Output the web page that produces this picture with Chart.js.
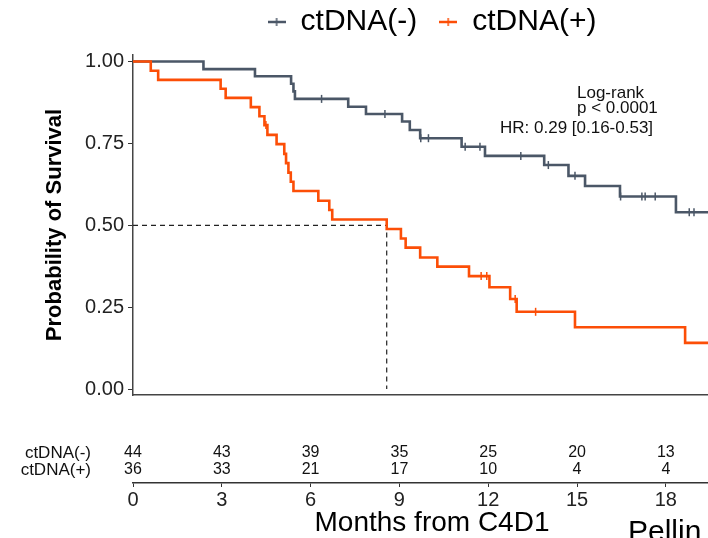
<!DOCTYPE html>
<html>
<head>
<meta charset="utf-8">
<script src="https://cdn.jsdelivr.net/npm/chart.js@4.4.1/dist/chart.umd.min.js"></script>
<style>
  body { margin: 0; overflow: hidden; background: #fff; }
  #wrap { position: relative; width: 740px; height: 538px; }
  #cut { position: absolute; left: 628px; top: 517px; font: 30px/28px "Liberation Sans", Arial, sans-serif; color: #000; white-space: nowrap; }
</style>
</head>
<body>
<div id="wrap">
  <canvas id="km" width="740" height="538"></canvas>
  <div id="cut">Pellin</div>
</div>
<script>
// KM steps: time (months) and survival just after each drop
const negTimes = [0, 2.38, 4.12, 5.34, 5.42, 5.47, 7.27, 7.87, 9.09, 9.35, 9.70, 11.10, 11.89, 13.89, 14.71, 15.27, 16.45, 18.34, 19.5];
const negSurv  = [1, 0.977, 0.955, 0.932, 0.909, 0.886, 0.862, 0.840, 0.817, 0.791, 0.766, 0.740, 0.712, 0.684, 0.651, 0.620, 0.588, 0.540, 0.540];
const negCensor = [6.37, 8.51, 9.72, 9.98, 11.22, 11.72, 13.10, 14.03, 14.93, 16.47, 17.19, 17.30, 17.64, 18.79, 18.95];

const posTimes = [0, 0.60, 0.85, 2.96, 3.13, 3.98, 4.27, 4.44, 4.54, 4.85, 5.11, 5.17, 5.25, 5.33, 5.42, 6.26, 6.63, 6.73, 8.57, 9.05, 9.21, 9.70, 10.28, 11.35, 12.04, 12.74, 12.96, 14.93, 18.65, 19.5];
const posSurv  = [1, 0.972, 0.944, 0.917, 0.889, 0.861, 0.833, 0.806, 0.776, 0.748, 0.718, 0.690, 0.661, 0.633, 0.605, 0.575, 0.547, 0.518, 0.489, 0.460, 0.432, 0.402, 0.374, 0.345, 0.311, 0.275, 0.236, 0.189, 0.141, 0.141];
const posCensor = [4.49, 11.76, 11.95, 12.91, 13.60];

const medianTime = 8.57;
const medianSurv = 0.5;

// numbers at risk
const riskTimes = [0, 3, 6, 9, 12, 15, 18];
const negRisk = [44, 43, 39, 35, 25, 20, 13];
const posRisk = [36, 33, 21, 17, 10, 4, 4];

const groupNames = ['ctDNA(-)', 'ctDNA(+)'];
const yTicks = [0, 0.25, 0.5, 0.75, 1];
const xTicks = [0, 3, 6, 9, 12, 15, 18];
const statLines = ['Log-rank', 'p < 0.0001', 'HR: 0.29 [0.16-0.53]'];

const GREY = '#4b5767';
const ORANGE = '#fc4e07';
const FONT = '"Liberation Sans", Arial, sans-serif';

function stepPoints(times, surv) {
  return times.map((t, i) => ({ x: t, y: surv[i] }));
}

// survival value of a curve at time t (for the censor ticks)
function survAt(times, surv, t) {
  let k = 0;
  for (let i = 0; i < times.length; i++) if (times[i] <= t) k = i;
  return surv[k];
}

function legendMark(color) {
  const c = document.createElement('canvas');
  c.width = 18; c.height = 10;
  const g = c.getContext('2d');
  g.strokeStyle = color;
  g.lineWidth = 2.5;
  g.beginPath(); g.moveTo(0, 5); g.lineTo(18, 5); g.stroke();
  g.lineWidth = 1.5;
  g.beginPath(); g.moveTo(9, 1); g.lineTo(9, 9); g.stroke();
  return c;
}
const legendMarks = [legendMark(GREY), legendMark(ORANGE)];

// fixed legend height so the panel starts where it does in the figure
const legendHeight = {
  id: 'legendHeight',
  beforeLayout(chart) {
    const lg = chart.legend;
    if (lg && !lg._fixed) {
      const fit = lg.fit;
      lg.fit = function () { fit.call(this); this.height = 55; };
      lg._fixed = true;
    }
  }
};

// risk table and test annotation
const extraText = {
  id: 'extraText',
  afterDraw(chart) {
    const { ctx } = chart;
    const x = chart.scales.x;
    const x2 = chart.scales.x2;
    ctx.save();
    ctx.fillStyle = '#111';
    ctx.font = '17px ' + FONT;
    ctx.textAlign = 'left';
    ctx.textBaseline = 'alphabetic';
    ctx.fillText(statLines[0], 577, 98);
    ctx.fillText(statLines[1], 577, 113);
    ctx.fillText(statLines[2], 500, 133);

    ctx.textBaseline = 'middle';
    const rows = [negRisk, posRisk];
    const rowY = [x2.top - 30, x2.top - 13];
    rows.forEach((row, r) => {
      ctx.font = '17px ' + FONT;
      ctx.textAlign = 'right';
      ctx.fillText(groupNames[r], 91, rowY[r]);
      ctx.font = '16px ' + FONT;
      ctx.textAlign = 'center';
      row.forEach((n, i) => ctx.fillText(String(n), x.getPixelForValue(riskTimes[i]), rowY[r]));
    });
    ctx.restore();
  }
};

const censorSet = (times, surv, cens, color) => ({
  type: 'line',
  showLine: false,
  data: cens.map(t => ({ x: t, y: survAt(times, surv, t) })),
  pointStyle: 'line',
  rotation: 90,
  pointRadius: 4,
  pointBorderWidth: 1.5,
  borderColor: color,
  backgroundColor: color,
  order: 0
});

new Chart(document.getElementById('km'), {
  type: 'line',
  data: {
    datasets: [
      {
        label: groupNames[0],
        data: stepPoints(negTimes, negSurv),
        stepped: 'before',
        borderColor: GREY,
        borderWidth: 2.6,
        pointRadius: 0,
        fill: false,
        order: 2
      },
      {
        label: groupNames[1],
        data: stepPoints(posTimes, posSurv),
        stepped: 'before',
        borderColor: ORANGE,
        borderWidth: 2.6,
        pointRadius: 0,
        fill: false,
        order: 1
      },
      censorSet(negTimes, negSurv, negCensor, GREY),
      censorSet(posTimes, posSurv, posCensor, ORANGE),
      {
        label: 'median',
        data: [{ x: 0, y: medianSurv }, { x: medianTime, y: medianSurv }, { x: medianTime, y: 0 }],
        borderColor: '#222',
        borderWidth: 1.2,
        borderDash: [5, 4],
        pointRadius: 0,
        fill: false,
        order: 3
      }
    ]
  },
  options: {
    responsive: false,
    animation: false,
    events: [],
    layout: { padding: { left: 0, right: 9, top: 0, bottom: 0 } },
    plugins: {
      tooltip: { enabled: false },
      legend: {
        position: 'top',
        fullSize: false,
        labels: {
          usePointStyle: true,
          pointStyleWidth: 18,
          padding: 7,
          color: '#000',
          font: { family: FONT, size: 30 },
          generateLabels: () => groupNames.map((name, i) => ({
            text: i === 0 ? name + '\u2002' : name,
            pointStyle: legendMarks[i],
            fontColor: '#000',
            fillStyle: 'transparent',
            strokeStyle: 'transparent',
            lineWidth: 0,
            hidden: false,
            datasetIndex: i
          }))
        }
      }
    },
    scales: {
      x: {
        type: 'linear',
        position: 'bottom',
        weight: 0,
        min: 0,
        max: 20.2,
        grid: { display: false },
        ticks: { display: false },
        border: { display: true, color: '#444', width: 1.5 },
        afterFit(s) { s.height = 88; }
      },
      x2: {
        type: 'linear',
        position: 'bottom',
        weight: 1,
        min: 0,
        max: 20.2,
        afterBuildTicks(s) { s.ticks = xTicks.map(v => ({ value: v })); },
        grid: { display: true, drawOnChartArea: false, drawTicks: true, tickLength: 4, color: '#333', lineWidth: 1 },
        ticks: { color: '#222', padding: 1, font: { family: FONT, size: 20 } },
        border: { display: true, color: '#333', width: 1.5 },
        title: {
          display: true,
          text: 'Months from C4D1',
          color: '#000',
          font: { family: FONT, size: 28 },
          padding: { top: 0, bottom: -2 }
        },
        afterFit(s) { s.height = 55; }
      },
      y: {
        type: 'linear',
        position: 'left',
        min: -0.018,
        max: 1.02,
        afterBuildTicks(s) { s.ticks = yTicks.map(v => ({ value: v })); },
        grid: { display: true, drawOnChartArea: false, drawTicks: true, tickLength: 5, color: '#333', lineWidth: 1 },
        border: { display: true, color: '#444', width: 1.5 },
        ticks: {
          color: '#222',
          padding: 4,
          font: { family: FONT, size: 20 },
          callback: v => Number(v).toFixed(2)
        },
        title: {
          display: true,
          text: 'Probability of Survival',
          color: '#000',
          font: { family: FONT, size: 22, weight: 'bold' },
          padding: { top: 42, bottom: 0 }
        },
        afterFit(s) { s.width = 133; }
      }
    }
  },
  plugins: [legendHeight, extraText]
});
</script>
</body>
</html>
